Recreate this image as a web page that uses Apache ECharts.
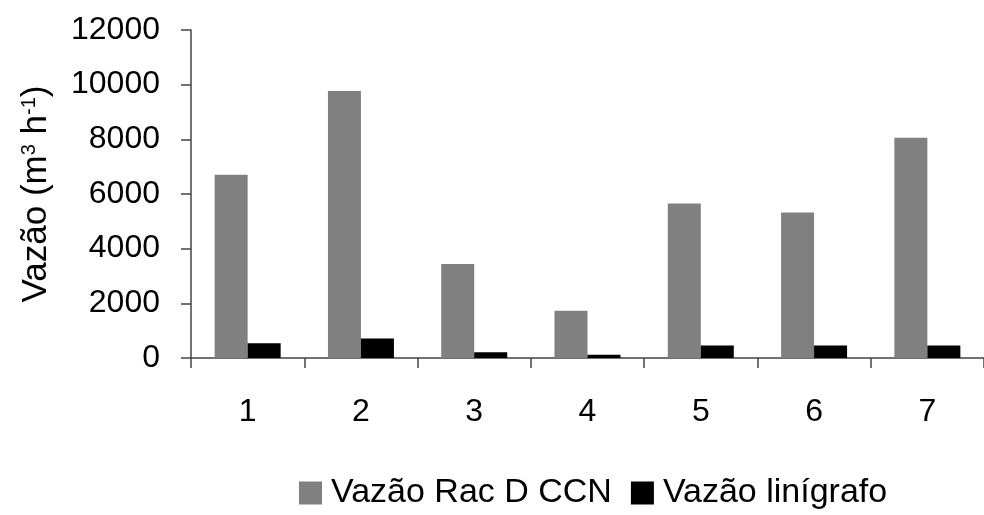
<!DOCTYPE html>
<html><head><meta charset="utf-8">
<script src="https://cdn.jsdelivr.net/npm/echarts@6/dist/echarts.min.js"></script>
<style>html,body{margin:0;padding:0;background:#fff}#c{width:984px;height:515px}</style>
</head><body><div id="c"></div>
<script>
const categories = ['1','2','3','4','5','6','7'];
const vazaoRacDCCN = [6700, 9770, 3440, 1730, 5650, 5320, 8060];
const vazaoLinigrafo = [540, 710, 210, 120, 460, 460, 460];
const yTicks = {min: 0, max: 12000, interval: 2000};
const seriesNames = ['Vazão Rac D CCN', 'Vazão linígrafo'];

const FONT = 'Liberation Sans, Arial, sans-serif';
const chart = echarts.init(document.getElementById('c'), null, {renderer: 'canvas'});
chart.setOption({
  animation: false,
  backgroundColor: '#fff',
  textStyle: {fontFamily: FONT},
  grid: {left: 191, right: -6, top: 30, bottom: 157, containLabel: false},
  legend: {
    data: seriesNames,
    left: 294, top: 471,
    itemWidth: 23, itemHeight: 23, itemGap: 19,
    icon: 'rect',
    textStyle: {fontFamily: FONT, fontSize: 34, color: '#000', padding: [0,0,0,4]}
  },
  xAxis: {
    type: 'category', data: categories,
    axisLine: {lineStyle: {color: '#444', width: 1.5}},
    axisTick: {show: true, length: 10, lineStyle: {color: '#444', width: 1.5}},
    axisLabel: {fontFamily: FONT, fontSize: 32, color: '#000', margin: 38}
  },
  yAxis: {
    type: 'value', min: yTicks.min, max: yTicks.max, interval: yTicks.interval,
    name: '{t|Vazão (m}{s|3}{t| h}{s|-1}{t|)}',
    nameLocation: 'middle', nameGap: 137, nameRotate: 90,
    nameTextStyle: {
      rich: {
        t: {fontFamily: FONT, fontSize: 35, color: '#000'},
        s: {fontFamily: FONT, fontSize: 20, color: '#000', verticalAlign: 'top', padding: [0,0,12,0]}
      }
    },
    splitLine: {show: false},
    axisLine: {show: true, lineStyle: {color: '#444', width: 1.5}},
    axisTick: {show: true, length: 10, lineStyle: {color: '#444', width: 1.5}},
    axisLabel: {fontFamily: FONT, fontSize: 32, color: '#000', margin: 31,
      formatter: v => String(v)}
  },
  series: [
    {name: seriesNames[0], type: 'bar', data: vazaoRacDCCN, barWidth: 33, barGap: '0%',
     itemStyle: {color: '#808080'}},
    {name: seriesNames[1], type: 'bar', data: vazaoLinigrafo, barWidth: 33, barGap: '0%',
     itemStyle: {color: '#000000'}}
  ]
});
</script></body></html>
